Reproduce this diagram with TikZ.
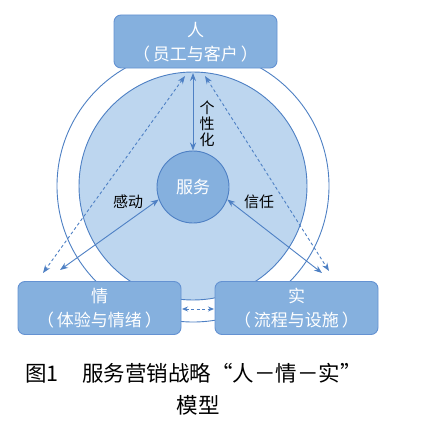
\documentclass[tikz,border=0pt]{standalone}
\usepackage{fontspec}
\setmainfont{Noto Sans CJK SC}
\usetikzlibrary{arrows.meta}
\definecolor{linec}{RGB}{78,128,196}
\definecolor{boxfill}{RGB}{133,176,222}
\definecolor{boxline}{RGB}{100,146,210}
\definecolor{ringfill}{RGB}{189,214,239}
\tikzset{
  boxnode/.style={draw=boxline, line width=0.9pt, fill=boxfill, rounded corners=7pt, minimum width=163pt, minimum height=53pt, inner sep=0pt},
  boxtext/.style={text=white, font=\fontsize{17}{24}\selectfont, align=center},
  conn/.style={draw=linec, line width=0.9pt, {Stealth[length=8pt,width=6pt]}-{Stealth[length=8pt,width=6pt]}},
  dconn/.style={conn, dash pattern=on 3pt off 2.5pt},
  lbl/.style={text=black, font=\fontsize{15}{17}\selectfont, inner sep=0pt},
  captext/.style={text=black, font=\fontsize{21.5}{24}\selectfont, inner sep=0pt},
}
\begin{document}
\begin{tikzpicture}[x=1pt,y=-1pt]
\useasboundingbox (0,0) rectangle (426,428);
% rings
\node[circle, draw=linec, line width=0.9pt, fill=white, minimum size=272pt, inner sep=0pt] (outer) at (193,186) {};
\node[circle, draw=linec, line width=0.9pt, fill=ringfill, minimum size=228pt, inner sep=0pt] (inner) at (193,186) {};
\node[circle, draw=linec, line width=0.9pt, fill=boxfill, minimum size=72pt, inner sep=0pt, text=white, font=\fontsize{17}{19}\selectfont] (svc) at (193,187) {服务};
% boxes
\node[boxnode] (ren) at (195.5,41.5) {};
\node[boxtext] at (195.5,42) {人\\（\,员工与客户\,）};
\node[boxnode] (qing) at (99.5,308) {};
\node[boxtext] at (99.5,308.5) {情\\（\,体验与情绪\,）};
\node[boxnode] (shi) at (296.5,308) {};
\node[boxtext] at (296.5,308.5) {实\\（\,流程与设施\,）};
% free ends
\coordinate (tl) at (185,76);
\coordinate (tr) at (205,76);
\coordinate (tc) at (193,73);
\coordinate (dl) at (43,273);
\coordinate (dr) at (329,271);
\coordinate (sl) at (60,270);
\coordinate (sr) at (322,273);
\coordinate (bl) at (182,309);
\coordinate (br) at (214,309);
% connectors
\draw[dconn] (tl) -- (dl);
\draw[dconn] (tr) -- (dr);
\draw[conn] (tc) -- (svc.north);
\draw[conn] (svc.200) -- (sl);
\draw[conn] (svc.-20) -- (sr);
\draw[dconn, {Stealth[length=6pt,width=5pt]}-{Stealth[length=6pt,width=5pt]}] (bl) -- (br);
% labels
\node[lbl, align=center, font=\fontsize{15}{16}\selectfont] (gxh) at (207,124) {个\\性\\化};
\node[lbl] (gd) at (128,202) {感动};
\node[lbl] (xr) at (259,202) {信任};
% caption
\node[captext] (cap1) at (193.5,373) {图1\hspace{1.1em}服务营销战略“人－情－实”};
\node[captext] (cap2) at (198,405) {模型};
\end{tikzpicture}
\end{document}
